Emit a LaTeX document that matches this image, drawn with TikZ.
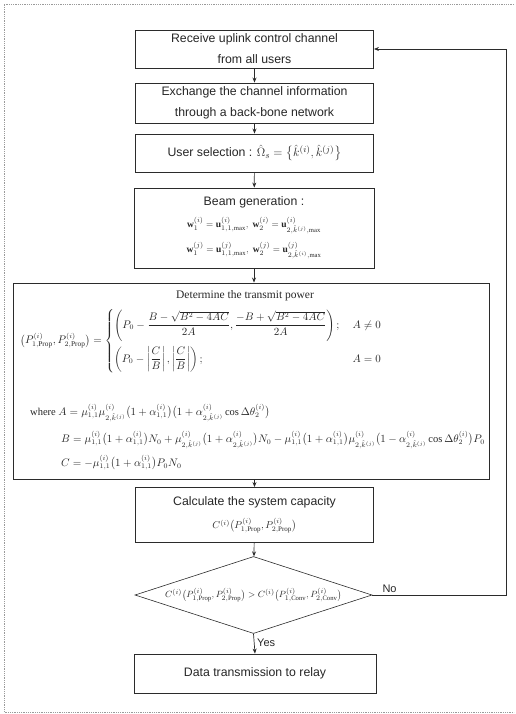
\documentclass[tikz,border=0pt]{standalone}
\usepackage{amsmath,amssymb}
\usepackage{fontspec}
\setmainfont{Liberation Serif}
\setsansfont{Liberation Sans}
\usetikzlibrary{shapes.geometric, arrows.meta, positioning}

\definecolor{linegray}{HTML}{2B2B2B}
\definecolor{framegray}{HTML}{9A9A9A}

\begin{document}
\begin{tikzpicture}[
  x=1pt, y=-1pt,
  every node/.style={font=\sffamily\fontsize{12.3}{21}\selectfont, text=black!85},
  box/.style={draw=linegray, line width=0.9pt, minimum width=238pt,
              align=center, inner sep=0pt},
  bigbox/.style={draw=linegray, line width=0.9pt, minimum width=476pt,
                 minimum height=196pt, inner sep=0pt},
  decision/.style={draw=linegray, line width=0.6pt, shape=diamond, aspect=3.08,
                   minimum width=237pt, minimum height=77pt, inner sep=0pt},
  mrow/.style={font=\rmfamily\fontsize{10.5}{13}\selectfont, anchor=west, inner sep=0pt},
  ann/.style={font=\sffamily\fontsize{11}{13}\selectfont, inner sep=1pt},
  arr/.style={-{Stealth[length=5pt, width=4pt]}, line width=0.7pt, draw=linegray}
]
\useasboundingbox (0,0) rectangle (515,714);

%% frame
\draw[framegray, densely dotted, line width=0.8pt] (514,4) -- (4,4) -- (4,712) -- (514,712);

\node[box, minimum height=38pt] (recv) at (254.5,49)  {Receive uplink control channel\\from all users};
\node[box, minimum height=40pt] (exch) at (254.5,103) {Exchange the channel information\\through a back-bone network};
\node[box, minimum height=38pt] (usel) at (254.5,153) {User selection : $\hat{\Omega}_s=\bigl\{\hat{k}^{(i)},\hat{k}^{(j)}\bigr\}$};
\node[box, minimum width=240pt, minimum height=80pt] (beam) at (254,228) {Beam generation :\\[1pt]
  {\fontsize{9.5}{12}\selectfont $\mathbf{w}_1^{(i)}=\mathbf{u}^{(i)}_{1,1,\max},\ \mathbf{w}_2^{(i)}=\mathbf{u}^{(i)}_{2,\hat{k}^{(j)},\max}$}\\[4pt]
  {\fontsize{9.5}{12}\selectfont $\mathbf{w}_1^{(j)}=\mathbf{u}^{(j)}_{1,1,\max},\ \mathbf{w}_2^{(j)}=\mathbf{u}^{(j)}_{2,\hat{k}^{(i)},\max}$}};

%% transmit power box
\node[bigbox] (det) at (251,381) {};
\node[mrow, anchor=center, font=\rmfamily\fontsize{11.5}{13}\selectfont] (dtitle) at (245,296) {Determine the transmit power};
\node[mrow] (power) at (20,341) {$\bigl(P^{(i)}_{1,\mathrm{Prop}},P^{(i)}_{2,\mathrm{Prop}}\bigr)=
  \begin{cases}
  \left(P_0-\dfrac{B-\sqrt{B^2-4AC}}{2A},\dfrac{-B+\sqrt{B^2-4AC}}{2A}\right); & \ A\neq 0\\[14pt]
  \left(P_0-\left|\dfrac{C}{B}\right|,\left|\dfrac{C}{B}\right|\right); & \ A=0
  \end{cases}$};
\node[mrow] (wA) at (30,413) {where $A=\mu^{(i)}_{1,1}\mu^{(i)}_{2,\hat{k}^{(j)}}\bigl(1+\alpha^{(i)}_{1,1}\bigr)\bigl(1+\alpha^{(i)}_{2,\hat{k}^{(j)}}\cos\Delta\theta^{(i)}_2\bigr)$};
\node[mrow] (wB) at (61,440) {$B=\mu^{(i)}_{1,1}\bigl(1+\alpha^{(i)}_{1,1}\bigr)N_0+\mu^{(i)}_{2,\hat{k}^{(j)}}\bigl(1+\alpha^{(i)}_{2,\hat{k}^{(j)}}\bigr)N_0-\mu^{(i)}_{1,1}\bigl(1+\alpha^{(i)}_{1,1}\bigr)\mu^{(i)}_{2,\hat{k}^{(j)}}\bigl(1-\alpha^{(i)}_{2,\hat{k}^{(j)}}\cos\Delta\theta^{(i)}_2\bigr)P_0$};
\node[mrow] (wC) at (61,463) {$C=-\mu^{(i)}_{1,1}\bigl(1+\alpha^{(i)}_{1,1}\bigr)P_0N_0$};

\node[box, minimum height=55pt] (calc) at (254.5,515) {Calculate the system capacity\\[2pt]
  {\fontsize{10}{12}\selectfont $C^{(i)}\bigl(P^{(i)}_{1,\mathrm{Prop}},P^{(i)}_{2,\mathrm{Prop}}\bigr)$}};
\node[decision] (cmp) at (253.5,595) {\fontsize{9.5}{12}\selectfont $C^{(i)}\bigl(P^{(i)}_{1,\mathrm{Prop}},P^{(i)}_{2,\mathrm{Prop}}\bigr)>C^{(i)}\bigl(P^{(i)}_{1,\mathrm{Conv}},P^{(i)}_{2,\mathrm{Conv}}\bigr)$};
\node[box, minimum width=242pt, minimum height=39pt] (send) at (255,673.5) {Data transmission to relay};

%% arrows
\foreach \a/\b in {recv/exch, exch/usel, usel/beam, calc/cmp}
  \draw[arr] (\a) -- (\b);
\draw[arr] (beam.south) -- (beam.south |- det.north);
\draw[arr] (calc.north |- det.south) -- (calc.north);
\draw[arr] (cmp.south) -- (send.north);

%% feedback
\coordinate (fb) at (506,0);
\draw[arr] (cmp.east) -- (cmp.east -| fb) |- (recv.east);
\node[ann, anchor=south west] (no) at ([xshift=9pt,yshift=1pt]cmp.east) {No};
\node[ann, anchor=west] (yes) at (256,643) {Yes};
\end{tikzpicture}
\end{document}
